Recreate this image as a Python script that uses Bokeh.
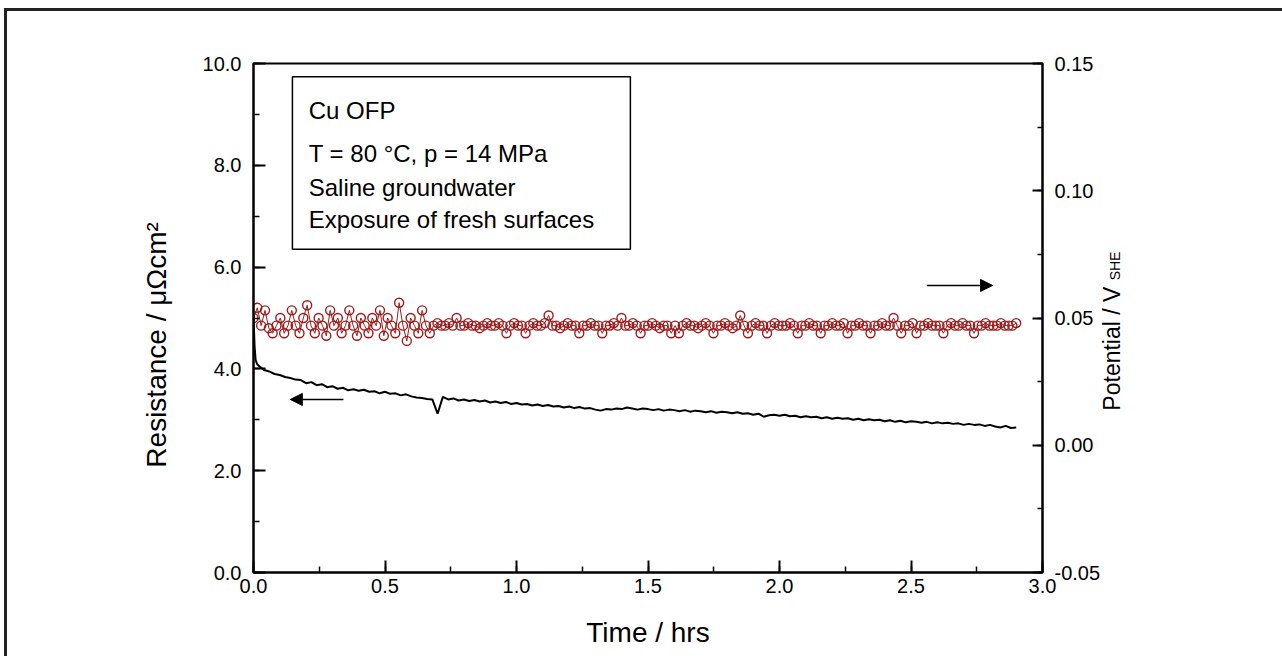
import numpy as np
from bokeh.plotting import figure
from bokeh.models import (Range1d, LinearAxis, SingleIntervalTicker, FixedTicker, PrintfTickFormatter,
                          Label, BoxAnnotation, Arrow, NormalHead)
from bokeh.embed import file_html
from bokeh.resources import INLINE

# ---------------- data ----------------
res_time_start = [0.0, 0.004, 0.008, 0.013]
res_values_start = [5.05, 4.45, 4.18, 4.10]
res_step_start = 0.02
res_step = 0.02
res_values = [
    4.06, 3.98, 3.95, 3.90, 3.88, 3.84, 3.82, 3.79, 3.78, 3.72,
    3.74, 3.68, 3.70, 3.64, 3.66, 3.61, 3.63, 3.58, 3.60, 3.57,
    3.59, 3.55, 3.56, 3.52, 3.55, 3.51, 3.52, 3.48, 3.50, 3.46,
    3.44, 3.43, 3.41, 3.40, 3.12, 3.45, 3.40, 3.42, 3.38, 3.40,
    3.37, 3.39, 3.36, 3.38, 3.34, 3.36, 3.33, 3.35, 3.31, 3.33,
    3.30, 3.31, 3.28, 3.30, 3.27, 3.29, 3.26, 3.27, 3.24, 3.26,
    3.23, 3.25, 3.22, 3.23, 3.20, 3.18, 3.21, 3.20, 3.22, 3.21,
    3.24, 3.22, 3.20, 3.22, 3.21, 3.19, 3.21, 3.18, 3.20, 3.19,
    3.17, 3.19, 3.16, 3.18, 3.17, 3.15, 3.17, 3.14, 3.16, 3.15,
    3.13, 3.15, 3.12, 3.13, 3.10, 3.12, 3.06, 3.09, 3.10, 3.08,
    3.10, 3.07, 3.08, 3.05, 3.07, 3.05, 3.06, 3.03, 3.05, 3.02,
    3.04, 3.02, 3.03, 3.00, 3.02, 2.99, 3.01, 2.99, 3.00, 2.97,
    2.99, 2.96, 2.98, 2.95, 2.97, 2.96, 2.94, 2.96, 2.93, 2.95,
    2.93, 2.94, 2.92, 2.93, 2.90, 2.92, 2.90, 2.91, 2.88, 2.90,
    2.87, 2.85, 2.88, 2.84, 2.85,
]
res_time = res_time_start + [round(res_step_start + res_step * i, 4) for i in range(len(res_values))]
res_all = res_values_start + res_values

pot_values = [
    0.050, 0.054, 0.047, 0.053, 0.046, 0.044, 0.047, 0.050, 0.044, 0.047,
    0.053, 0.047, 0.044, 0.050, 0.055, 0.047, 0.044, 0.050, 0.047, 0.043,
    0.053, 0.047, 0.050, 0.044, 0.047, 0.053, 0.047, 0.043, 0.050, 0.047,
    0.044, 0.050, 0.047, 0.053, 0.043, 0.050, 0.047, 0.044, 0.056, 0.047,
    0.041, 0.050, 0.047, 0.044, 0.053, 0.047, 0.044,
    0.047, 0.048, 0.047, 0.047, 0.048, 0.047, 0.050, 0.047, 0.047, 0.048,
    0.047, 0.047, 0.046, 0.047, 0.048, 0.047, 0.047, 0.048, 0.047, 0.044,
    0.047, 0.048, 0.047, 0.047, 0.044, 0.047, 0.048, 0.047, 0.047, 0.048,
    0.051, 0.047, 0.047, 0.046, 0.047, 0.048, 0.047, 0.047, 0.044, 0.047,
    0.047, 0.048, 0.047, 0.047, 0.044, 0.047, 0.047, 0.048, 0.047, 0.050,
    0.047, 0.047, 0.048, 0.047, 0.044, 0.047, 0.047, 0.048, 0.047, 0.046,
    0.047, 0.047, 0.044, 0.047, 0.044, 0.047, 0.048, 0.047, 0.047, 0.046,
    0.047, 0.048, 0.047, 0.044, 0.047, 0.047, 0.048, 0.047, 0.046, 0.047,
    0.051, 0.047, 0.044, 0.047, 0.048, 0.047, 0.047, 0.044, 0.047, 0.048,
    0.047, 0.047, 0.047, 0.048, 0.047, 0.044, 0.047, 0.047, 0.048, 0.047,
    0.047, 0.044, 0.047, 0.047, 0.048, 0.047, 0.047, 0.048, 0.044, 0.047,
    0.047, 0.048, 0.047, 0.047, 0.044, 0.047, 0.047, 0.048, 0.047, 0.047,
    0.050, 0.047, 0.044, 0.047, 0.047, 0.048, 0.044, 0.047, 0.047, 0.048,
    0.047, 0.047, 0.047, 0.044, 0.047, 0.048, 0.047, 0.047, 0.048, 0.047,
    0.047, 0.044, 0.047, 0.047, 0.048, 0.047, 0.047, 0.047, 0.048, 0.047,
    0.047, 0.047, 0.048,
]
pot_time = list(np.linspace(0.0, 2.9, len(pot_values)))

pot_ticks = [-0.05, 0.0, 0.05, 0.10, 0.15]
pot_minor = [-0.05, -0.025, 0.0, 0.025, 0.05, 0.075, 0.10, 0.125, 0.15]

legend_lines = ["Cu OFP", "T = 80 \u00b0C, p = 14 MPa", "Saline groundwater", "Exposure of fresh surfaces"]
x_label = "Time / hrs"
y_label = "Resistance / \u03bc\u03a9cm\u00b2"
y2_label = "Potential / V"
y2_sub = "SHE"

# ---------------- figure ----------------
FONT = "Liberation Sans"
RED = "#9c1c1c"
p = figure(width=1279, height=648, output_backend="svg", toolbar_location=None,
           x_range=Range1d(0, 3), y_range=Range1d(0, 10),
           min_border_left=246, min_border_right=244, min_border_top=52, min_border_bottom=87)
p.styles = {"margin-left": "7px", "margin-top": "11px",
            "box-shadow": "-3px -3px 0px 0px #222222"}
p.xgrid.visible = False
p.ygrid.visible = False
p.outline_line_color = "black"
p.outline_line_width = 2
p.outline_line_alpha = 1.0
p.background_fill_color = "white"
p.border_fill_color = "white"

p.extra_y_ranges = {"pot": Range1d(-0.05, 0.15)}

def style_axis(ax, fmt):
    ax.axis_line_width = 2
    ax.axis_line_color = "black"
    ax.major_tick_in = 12
    ax.major_tick_out = 0
    ax.minor_tick_in = 6
    ax.minor_tick_out = 0
    ax.major_tick_line_width = 2
    ax.minor_tick_line_width = 1.5
    ax.major_label_text_font = FONT
    ax.major_label_text_font_size = "20px"
    ax.major_label_text_color = "black"
    ax.formatter = PrintfTickFormatter(format=fmt)
    ax.axis_label_text_font = FONT
    ax.axis_label_text_font_size = "28px"
    ax.axis_label_text_font_style = "normal"
    ax.axis_label_text_color = "black"

xa = p.xaxis[0]
xa.ticker = SingleIntervalTicker(interval=0.5, num_minor_ticks=2)
style_axis(xa, "%.1f")
xa.major_label_standoff = 6
xa.axis_label = x_label
xa.axis_label_standoff = 21

ya = p.yaxis[0]
ya.ticker = SingleIntervalTicker(interval=2, num_minor_ticks=2)
style_axis(ya, "%.1f")
ya.major_label_standoff = 12

ra = LinearAxis(y_range_name="pot")
ra.ticker = FixedTicker(ticks=pot_ticks, minor_ticks=pot_minor)
style_axis(ra, "%.2f")
ra.major_tick_in = 10
ra.minor_tick_in = 5
ra.major_label_standoff = 12
p.add_layout(ra, "right")

# ---------------- data glyphs ----------------
p.line(pot_time, pot_values, y_range_name="pot", line_color=RED, line_width=1)
p.scatter(pot_time, pot_values, y_range_name="pot", marker="circle", size=9,
          fill_color=None, line_color=RED, line_width=1.4)
p.line(res_time, res_all, line_color="black", line_width=2)

# ---------------- annotations ----------------
p.add_layout(BoxAnnotation(left=0.148, right=1.433, bottom=6.35, top=9.74,
                           fill_color=None, fill_alpha=0, line_color="black", line_alpha=1.0,
                           line_width=1.5, level="overlay"))
for txt, yb in zip(legend_lines, [9.07, 8.24, 7.56, 6.93]):
    p.add_layout(Label(x=0.21, y=yb, text=txt, text_font=FONT, text_font_size="24px",
                       text_color="black", text_baseline="alphabetic", text_align="left"))

p.add_layout(Arrow(end=NormalHead(size=12, fill_color="black", line_color="black"),
                   x_start=0.342, y_start=3.40, x_end=0.14, y_end=3.40,
                   line_color="black", line_width=1.5))
p.add_layout(Arrow(end=NormalHead(size=12, fill_color="black", line_color="black"),
                   x_start=2.56, y_start=5.64, x_end=2.81, y_end=5.64,
                   line_color="black", line_width=1.5))

# axis titles drawn as labels in the side panels (not clipped to the frame)
p.add_layout(Label(x=-0.369, y=2.06, text=y_label, angle=np.pi / 2, text_font=FONT,
                   text_font_size="28px", text_color="black",
                   text_baseline="alphabetic", text_align="left"), "left")
p.add_layout(Label(x=3.266, y=3.18, text=y2_label, angle=np.pi / 2, text_font=FONT,
                   text_font_size="23px", text_color="black",
                   text_baseline="alphabetic", text_align="left"), "right")
p.add_layout(Label(x=3.274, y=5.74, text=y2_sub, angle=np.pi / 2, text_font=FONT,
                   text_font_size="14px", text_color="black",
                   text_baseline="alphabetic", text_align="left"), "right")

open("out.html", "w").write(file_html(p, INLINE))
